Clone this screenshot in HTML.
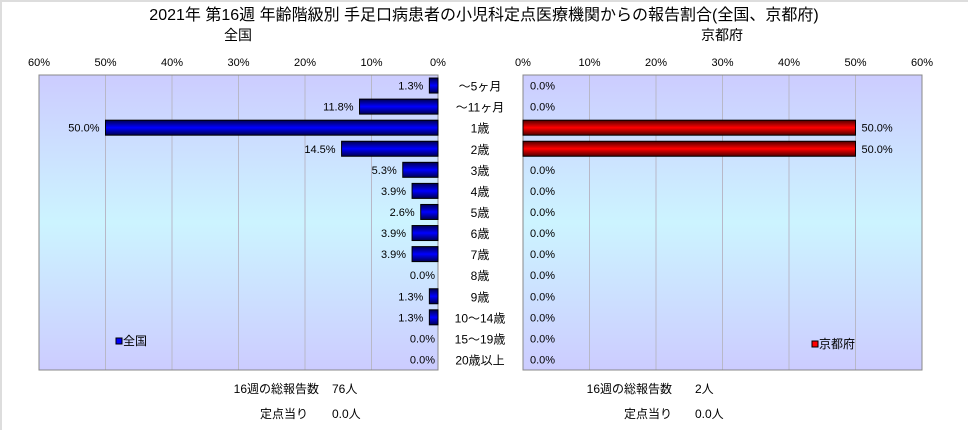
<!DOCTYPE html>
<html><head><meta charset="utf-8"><style>
body{margin:0;background:#fff}
svg{display:block;font-family:"Liberation Sans","Noto Sans CJK JP",sans-serif}
</style></head><body>
<svg id="c" width="968" height="430" viewBox="0 0 968 430">
<defs>
<linearGradient id="bg" x1="0" y1="0" x2="0" y2="1">
<stop offset="0" stop-color="#ccccff"/><stop offset="0.5" stop-color="#ccf4ff"/><stop offset="1" stop-color="#ccccff"/>
</linearGradient>
<linearGradient id="gb" x1="0" y1="0" x2="0" y2="1">
<stop offset="0" stop-color="#000050"/><stop offset="0.5" stop-color="#0000ff"/><stop offset="1" stop-color="#000050"/>
</linearGradient>
<linearGradient id="gr" x1="0" y1="0" x2="0" y2="1">
<stop offset="0" stop-color="#500000"/><stop offset="0.5" stop-color="#ff0000"/><stop offset="1" stop-color="#500000"/>
</linearGradient>
</defs>
<rect x="0" y="0" width="968" height="2" fill="#ddd"/>
<rect x="0" y="0" width="2" height="430" fill="#ddd"/>
<text x="484" y="20" font-size="16" text-anchor="middle">2021年 第16週 年齢階級別 手足口病患者の小児科定点医療機関からの報告割合(全国、京都府)</text>
<text x="238" y="40" font-size="14" text-anchor="middle">全国</text>
<text x="722" y="40" font-size="14" text-anchor="middle">京都府</text>
<g id="g"></g>
<text x="319" y="393" font-size="12" text-anchor="end">16週の総報告数</text>
<text x="332" y="393" font-size="12">76人</text>
<text x="308" y="418" font-size="12" text-anchor="end">定点当り</text>
<text x="332" y="418" font-size="12">0.0人</text>
<text x="672" y="393" font-size="12" text-anchor="end">16週の総報告数</text>
<text x="695" y="393" font-size="12">2人</text>
<text x="672" y="418" font-size="12" text-anchor="end">定点当り</text>
<text x="695" y="418" font-size="12">0.0人</text>
</svg>
<script>
const categories=["～5ヶ月","～11ヶ月","1歳","2歳","3歳","4歳","5歳","6歳","7歳","8歳","9歳","10～14歳","15～19歳","20歳以上"];
const nationalValues=[1.3,11.8,50.0,14.5,5.3,3.9,2.6,3.9,3.9,0.0,1.3,1.3,0.0,0.0];
const kyotoValues=[0,0,50.0,50.0,0,0,0,0,0,0,0,0,0,0];
const tickValues=[0,10,20,30,40,50,60];
const NS="http://www.w3.org/2000/svg";
const gEl=document.getElementById('g');
function mk(t,a,txt){const e=document.createElementNS(NS,t);for(const k in a)e.setAttribute(k,a[k]);if(txt!=null)e.textContent=txt;gEl.appendChild(e);return e;}
const yTop=75,yBot=370,maxV=60;
const L={x0:438,x1:39},R={x0:523,x1:922};
const xL=v=>L.x0-(L.x0-L.x1)*v/maxV;
const xR=v=>R.x0+(R.x1-R.x0)*v/maxV;
const rowH=(yBot-yTop)/categories.length;
const yC=i=>yTop+rowH*(i+0.5);
const bh=15;
let e;
e=mk('rect',{x:L.x1,y:yTop,width:L.x0-L.x1,height:yBot-yTop,fill:'url(#bg)'});


e=mk('rect',{x:R.x0,y:yTop,width:R.x1-R.x0,height:yBot-yTop,fill:'url(#bg)'});


tickValues.forEach(v=>{
  if(v>0&&v<60){
    e=mk('line',{x1:xL(v),x2:xL(v),y1:yTop,y2:yBot,stroke:'#b8b8c8','stroke-width':1});
    
    
    e=mk('line',{x1:xR(v),x2:xR(v),y1:yTop,y2:yBot,stroke:'#b8b8c8','stroke-width':1});
    
    
  }
  e=mk('text',{x:xL(v),y:66,'font-size':11,'text-anchor':'middle'},v+'%');
  
  
  e=mk('text',{x:xR(v),y:66,'font-size':11,'text-anchor':'middle'},v+'%');
  
  
});
e=mk('rect',{x:L.x1,y:yTop,width:L.x0-L.x1,height:yBot-yTop,fill:'none',stroke:'#888'});


e=mk('rect',{x:R.x0,y:yTop,width:R.x1-R.x0,height:yBot-yTop,fill:'none',stroke:'#888'});


categories.forEach((c,i)=>{
  const y=yC(i);
  e=mk('text',{x:480,y:y+5,'font-size':12,'text-anchor':'middle'},c);
  
  
  const v=nationalValues[i];
  if(v>0){
    e=mk('rect',{x:xL(v),y:y-bh/2,width:L.x0-xL(v),height:bh,fill:'url(#gb)',stroke:'#000','stroke-width':1});
    
    
  }
  e=mk('text',{x:xL(v)-(v>0?6:3),y:y+4,'font-size':11,'text-anchor':'end'},v.toFixed(1)+'%');
  
  
  const k=kyotoValues[i];
  if(k>0){
    e=mk('rect',{x:R.x0,y:y-bh/2,width:xR(k)-R.x0,height:bh,fill:'url(#gr)',stroke:'#000','stroke-width':1});
    
    
  }
  e=mk('text',{x:xR(k)+(k>0?6:7),y:y+4,'font-size':11},k.toFixed(1)+'%');
  
  
});
e=mk('rect',{x:116,y:338,width:6,height:6,fill:'#0000ff',stroke:'#000'});


e=mk('text',{x:123,y:345,'font-size':12},'全国');


e=mk('rect',{x:812,y:341,width:6,height:6,fill:'#ff0000',stroke:'#000'});


e=mk('text',{x:819,y:348,'font-size':12},'京都府');


</script>
</body></html>
